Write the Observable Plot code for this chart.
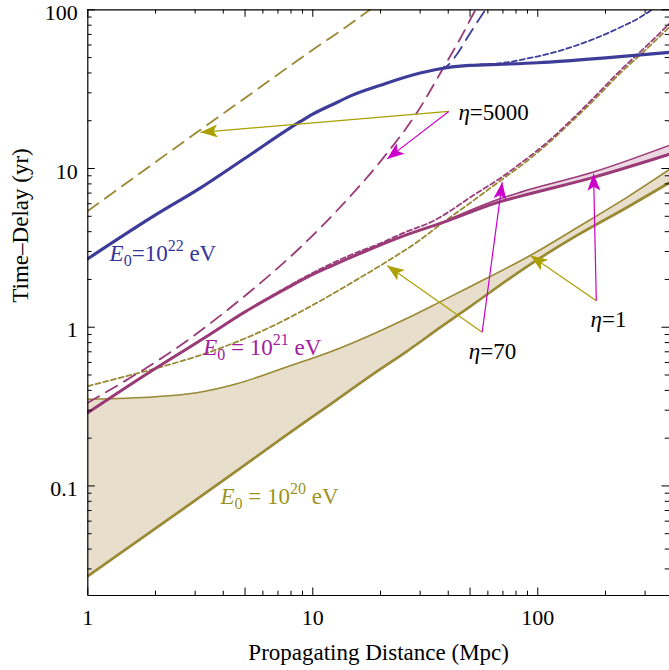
<!DOCTYPE html>
<html>
<head>
<meta charset="utf-8">
<script src="https://cdn.jsdelivr.net/npm/d3@7"></script>
<script src="https://cdn.jsdelivr.net/npm/@observablehq/plot@0.6"></script>
<style>
  html, body { margin: 0; padding: 0; background: #fff; }
</style>
</head>
<body>
<div id="chart"></div>
<script>
// ---------- data ----------
// E0 = 1e22 eV
const blueX = [1, 2, 3.17, 5, 8.82, 10, 12.6, 15, 20, 30, 40, 50, 70, 100, 200, 385];
const blueY = [2.7, 5.1, 7.55, 11.6, 19.8, 22, 25.8, 29, 33.5, 40, 43.3, 44.6, 45.4, 46.4, 49.8, 54];
const blueEta70X = [40, 50, 65, 77, 84, 110, 140, 180, 233, 290, 340];
const blueEta70Y = [43.5, 44.9, 45.8, 47.2, 48.4, 52.5, 58, 66, 77.6, 91, 106];
const blueEta5000X = [36, 38.9, 43.8, 49.3, 55.6, 60];
const blueEta5000Y = [42.3, 43.5, 52.7, 68.9, 89.8, 106];

// E0 = 1e21 eV
const magX = [1, 1.82, 3.4, 5, 7.6, 10, 12, 17, 24.5, 40, 66, 84, 177, 385];
const magY = [0.289, 0.505, 0.88, 1.25, 1.75, 2.15, 2.42, 3.0, 3.7, 4.7, 6.1, 6.7, 8.8, 12.3];
const magBandX = [40, 66, 84, 177, 385];
const magBandLo = [4.7, 6.1, 6.7, 8.8, 12.3];
const magBandHi = [4.75, 6.35, 7.1, 9.5, 14.0];
const magEta70X = [1, 2, 3.4, 5, 8.8, 14.7, 20, 25, 34.5, 51.9, 70.6, 84, 110, 140, 180, 233, 300, 385];
const magEta70Y = [0.289, 0.55, 0.88, 1.24, 2.0, 2.85, 3.38, 3.9, 4.69, 6.8, 9.0, 10.8, 14.6, 20, 28.5, 41.5, 58, 82];
const magEta5000X = [1, 2.75, 5, 8.82, 12.6, 20.7, 29.1, 38.2, 45, 53.8, 56];
const magEta5000Y = [0.334, 0.82, 1.58, 3.19, 5.3, 11.8, 22.6, 43.5, 65, 104, 114];

// E0 = 1e20 eV
const oliveX = [1, 2, 3, 4.6, 7.6, 12, 19, 26, 37, 50, 93, 150, 250, 385];
const oliveHi = [0.352, 0.365, 0.385, 0.44, 0.56, 0.70, 0.92, 1.13, 1.45, 1.8, 2.84, 4.25, 6.6, 9.86];
const oliveLo = [0.027, 0.054, 0.081, 0.125, 0.208, 0.328, 0.52, 0.70, 1.0, 1.35, 2.5, 3.8, 5.7, 8.16];
const oliveEta70X = [1, 2, 3, 4, 5.5, 7.6, 10, 12.6, 15, 20, 30, 37, 51.9, 70.6, 84, 110, 140, 180, 233, 300, 385];
const oliveEta70Y = [0.426, 0.55, 0.65, 0.75, 0.9, 1.12, 1.38, 1.66, 1.92, 2.45, 3.55, 4.45, 6.3, 8.7, 10.4, 14.2, 19.5, 27.5, 40, 55.5, 78];
const oliveEta5000X = [1, 3, 5, 10, 12.6, 20];
const oliveEta5000Y = [5.4, 16.6, 27.8, 56, 70, 112];

// ticks
const xTickLabels = [1, 5, 10, 50, 100];
const xMinorTicks = [2, 3, 4, 6, 7, 8, 9, 20, 30, 40, 60, 70, 80, 90, 200, 300];
const yTickLabels = [0.1, 1, 10, 100];
const yMinorTicks = [0.03, 0.04, 0.05, 0.06, 0.07, 0.08, 0.09, 0.2, 0.3, 0.4, 0.5, 0.6, 0.7, 0.8, 0.9,
                     2, 3, 4, 5, 6, 7, 8, 9, 20, 30, 40, 50, 60, 70, 80, 90];

// annotations
const etaLabels = ["η=5000", "η=70", "η=1"];
const etaTextX = [44.4, 49.4, 171.5];
const etaTextY = [22.6, 0.703, 1.12];
const etaFromX = [40.2, 56.6, 182];
const etaFromY = [22.9, 0.93, 1.47];
const etaOliveTipX = [3.17, 21.4, 92.8];
const etaOliveTipY = [16.9, 2.45, 2.83];
const etaMagTipX = [21.4, 69.5, 177];
const etaMagTipY = [11.5, 8.2, 9.27];

const energyLabels = ["E0=10^22 eV", "E0 = 10^21 eV", "E0 = 10^20 eV"];
const energyX = [1.25, 3.26, 3.89];
const energyY = [2.91, 0.745, 0.0857];

// ---------- styles ----------
const blue = "#3d3d99", blueText = "#34349c";
const mag = "#9a3b78", magText = "#a020a0", magArrow = "#cc00cc";
const olive = "#9a8a35", oliveText = "#9c9420", oliveArrow = "#aaa000";
const W = 669, H = 670, mL = 87.3, mR = 0, mT = 9.3, mB = 75;
const innerW = W - mL - mR, innerH = H - mT - mB;
const majorLen = 7.5, minorLen = 4.3;
const curve = "monotone-x";

const rows = (xs, ys) => xs.map((x, i) => ({x, y: ys[i]}));
const band = (xs, lo, hi) => xs.map((x, i) => ({x, lo: lo[i], hi: hi[i]}));

const etaRows = etaLabels.map((t, i) => ({
  t, tx: etaTextX[i], ty: etaTextY[i], fx: etaFromX[i], fy: etaFromY[i],
  ox: etaOliveTipX[i], oy: etaOliveTipY[i], mx: etaMagTipX[i], my: etaMagTipY[i]
}));
const energyRows = energyLabels.map((t, i) => ({t, x: energyX[i], y: energyY[i]}));

function headMarker(color, context) {
  const doc = (context && context.document) || document;
  const ns = "http://www.w3.org/2000/svg";
  const m = doc.createElementNS(ns, "marker");
  m.setAttribute("viewBox", "-18 -7 19 14");
  m.setAttribute("markerWidth", "19");
  m.setAttribute("markerHeight", "14");
  m.setAttribute("markerUnits", "userSpaceOnUse");
  m.setAttribute("orient", "auto");
  m.setAttribute("overflow", "visible");
  const p = doc.createElementNS(ns, "path");
  p.setAttribute("d", "M0,0L-17,-6.5L-13,0L-17,6.5Z");
  p.setAttribute("fill", color);
  p.setAttribute("stroke", "none");
  m.appendChild(p);
  return m;
}

const longDash = "13,8", shortDash = "5,3";
const ln = (xs, ys, stroke, strokeWidth, dash) =>
  Plot.line(rows(xs, ys), {x: "x", y: "y", stroke, strokeWidth, strokeDasharray: dash, curve, clip: true});

const plot = Plot.plot({
  width: W, height: H,
  marginLeft: mL, marginRight: mR, marginTop: mT, marginBottom: mB,
  style: {fontFamily: '"Liberation Serif", "Times New Roman", serif', fontSize: "22px", background: "white", color: "black"},
  x: {type: "log", domain: [1, 385]},
  y: {type: "log", domain: [0.0204, 100]},
  marks: [
    // bands
    Plot.areaY(band(oliveX, oliveLo, oliveHi), {x: "x", y1: "lo", y2: "hi", fill: "#e7dfcc", curve, clip: true}),
    Plot.areaY(band(magBandX, magBandLo, magBandHi), {x: "x", y1: "lo", y2: "hi", fill: "#ecd8e2", curve, clip: true}),

    // E0 = 1e20
    ln(oliveX, oliveHi, olive, 1.6),
    ln(oliveX, oliveLo, olive, 2.7),
    ln(oliveEta70X, oliveEta70Y, olive, 1.8, shortDash),
    ln(oliveEta5000X, oliveEta5000Y, olive, 1.8, longDash),

    // E0 = 1e21
    ln(magBandX, magBandHi, mag, 1.6),
    ln(magX, magY, mag, 3),
    ln(magEta70X, magEta70Y, mag, 1.8, shortDash),
    ln(magEta5000X, magEta5000Y, mag, 1.8, longDash),

    // E0 = 1e22
    ln(blueEta70X, blueEta70Y, blue, 1.8, shortDash),
    ln(blueEta5000X, blueEta5000Y, blue, 1.8, longDash),
    ln(blueX, blueY, blue, 3.2),

    // annotation arrows
    Plot.link(etaRows, {x1: "fx", y1: "fy", x2: "ox", y2: "oy", stroke: oliveArrow, strokeWidth: 1.2, markerEnd: headMarker}),
    Plot.link(etaRows, {x1: "fx", y1: "fy", x2: "mx", y2: "my", stroke: magArrow, strokeWidth: 1.2, markerEnd: headMarker}),
    Plot.text(etaRows, {x: "tx", y: "ty", text: "t", textAnchor: "start", lineAnchor: "middle", fill: "black", fontSize: 23}),

    // energy labels
    Plot.text(energyRows, {x: "x", y: "y", text: "t", textAnchor: "start", lineAnchor: "middle",
      fill: (d, i) => [blueText, magText, oliveText][i], fontSize: 23}),

    // frame (left, bottom, top)
    Plot.ruleX([1], {stroke: "black", strokeWidth: 1.2}),
    Plot.ruleY([0.0204], {stroke: "black", strokeWidth: 1.2}),
    Plot.ruleY([100], {stroke: "black", strokeWidth: 1.2}),

    // inward ticks, all four sides
    Plot.tickX(xTickLabels, {x: d => d, insetTop: innerH - majorLen, stroke: "black"}),
    Plot.tickX(xTickLabels, {x: d => d, insetBottom: innerH - majorLen, stroke: "black"}),
    Plot.tickX(xMinorTicks, {x: d => d, insetTop: innerH - minorLen, stroke: "black"}),
    Plot.tickX(xMinorTicks, {x: d => d, insetBottom: innerH - minorLen, stroke: "black"}),
    Plot.tickY(yTickLabels, {y: d => d, insetRight: innerW - majorLen, stroke: "black"}),
    Plot.tickY(yTickLabels, {y: d => d, insetLeft: innerW - majorLen, stroke: "black"}),
    Plot.tickY(yMinorTicks, {y: d => d, insetRight: innerW - minorLen, stroke: "black"}),
    Plot.tickY(yMinorTicks, {y: d => d, insetLeft: innerW - minorLen, stroke: "black"}),

    // tick labels
    Plot.axisX({ticks: xTickLabels, tickSize: 0, tickPadding: 14, tickFormat: d => String(d), label: null, fontSize: 22}),
    Plot.axisY({ticks: yTickLabels, tickSize: 0, tickPadding: 10, dy: 3, tickFormat: d => String(d), label: null, fontSize: 22}),

    // axis titles
    Plot.text(["Propagating Distance (Mpc)"], {text: d => d, frameAnchor: "bottom", dy: 57, lineAnchor: "middle", fontSize: 23}),
    Plot.text(["Time\u2013Delay (yr)"], {text: d => d, frameAnchor: "left", dx: -67, rotate: -90, lineAnchor: "middle", fontSize: 23})
  ]
});

// rich text: italic symbols, subscripts and superscripts
const NS = "http://www.w3.org/2000/svg";
function addSpan(el, txt, attrs) {
  const s = document.createElementNS(NS, "tspan");
  for (const k in attrs) s.setAttribute(k, attrs[k]);
  s.textContent = txt;
  el.appendChild(s);
}
plot.querySelectorAll("text").forEach(el => {
  const t = el.textContent;
  let m = t.match(/^E0(\s*=\s*)10\^(\d+) eV$/);
  if (m) {
    el.textContent = "";
    addSpan(el, "E", {"font-style": "italic"});
    addSpan(el, "0", {"font-size": "16", dy: "5"});
    addSpan(el, m[1] + "10", {dy: "-5"});
    addSpan(el, m[2], {"font-size": "16", dy: "-10"});
    addSpan(el, " eV", {dy: "10"});
    return;
  }
  m = t.match(/^η(=\d+)$/);
  if (m) {
    el.textContent = "";
    addSpan(el, "η", {"font-style": "italic"});
    addSpan(el, m[1], {});
  }
});

document.getElementById("chart").appendChild(plot);
</script>
</body>
</html>
